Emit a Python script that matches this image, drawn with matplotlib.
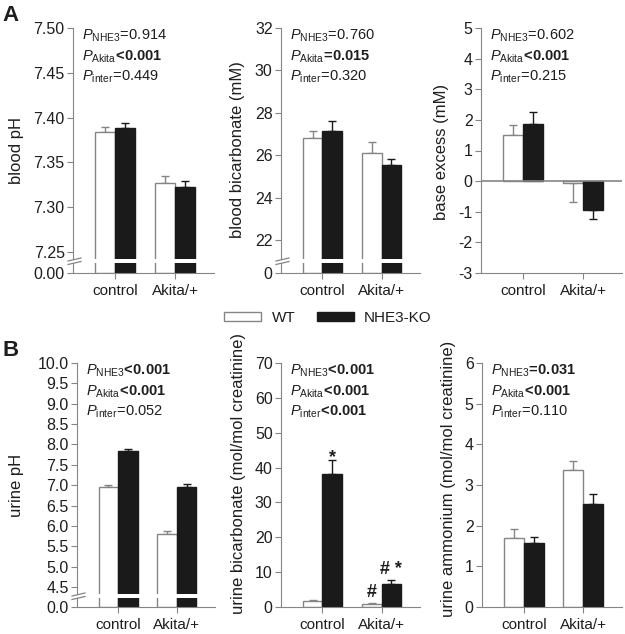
import matplotlib.pyplot as plt
from matplotlib.lines import Line2D
from matplotlib.patches import Patch
import numpy as np

plt.rcParams['font.family'] = ['Liberation Sans', 'DejaVu Sans']
plt.rcParams['mathtext.fontset'] = 'custom'
plt.rcParams['mathtext.rm'] = 'Liberation Sans'
plt.rcParams['mathtext.it'] = 'Liberation Sans:italic'
plt.rcParams['mathtext.bf'] = 'Liberation Sans:bold'

groups = ["control", "Akita/+"]
genotypes = ["WT", "NHE3-KO"]

# --- data (mean, SEM) ---------------------------------------------------
blood_ph_wt = [7.384, 7.327]
blood_ph_wt_err = [0.005, 0.008]
blood_ph_ko = [7.388, 7.322]
blood_ph_ko_err = [0.006, 0.007]

blood_bicarb_wt = [26.81, 26.11]
blood_bicarb_wt_err = [0.35, 0.52]
blood_bicarb_ko = [27.13, 25.52]
blood_bicarb_ko_err = [0.47, 0.31]

base_excess_wt = [1.49, -0.07]
base_excess_wt_err = [0.34, 0.60]
base_excess_ko = [1.85, -0.95]
base_excess_ko_err = [0.41, 0.30]

urine_ph_wt = [6.95, 5.81]
urine_ph_wt_err = [0.06, 0.07]
urine_ph_ko = [7.85, 6.96]
urine_ph_ko_err = [0.05, 0.07]

urine_bicarb_wt = [1.8, 0.95]
urine_bicarb_wt_err = [0.3, 0.2]
urine_bicarb_ko = [38.1, 6.7]
urine_bicarb_ko_err = [4.2, 1.1]
urine_bicarb_wt_marks = ["", "#"]
urine_bicarb_ko_marks = ["*", "# *"]

urine_nh4_wt = [1.69, 3.36]
urine_nh4_wt_err = [0.22, 0.24]
urine_nh4_ko = [1.57, 2.53]
urine_nh4_ko_err = [0.16, 0.26]

# P values: (factor, text, bold)
p_blood_ph = [("NHE3", "=0.914", False), ("Akita", "<0.001", True), ("inter", "=0.449", False)]
p_blood_bicarb = [("NHE3", "=0.760", False), ("Akita", "=0.015", True), ("inter", "=0.320", False)]
p_base_excess = [("NHE3", "=0.602", False), ("Akita", "<0.001", True), ("inter", "=0.215", False)]
p_urine_ph = [("NHE3", "<0.001", True), ("Akita", "<0.001", True), ("inter", "=0.052", False)]
p_urine_bicarb = [("NHE3", "<0.001", True), ("Akita", "<0.001", True), ("inter", "<0.001", True)]
p_urine_nh4 = [("NHE3", "=0.031", True), ("Akita", "<0.001", True), ("inter", "=0.110", False)]

# --- style -------------------------------------------------------------
GRAY = "#858585"
BLACK = "#1a1a1a"
TXT = "#1e1e1e"
W, H = 625, 634
BW = 0.333

fig = plt.figure(figsize=(W / 100, H / 100), dpi=100)


def rect(l, t, r, b):
    return [l / W, 1 - b / H, (r - l) / W, (b - t) / H]


def p_string(factor, txt, bold):
    sym, num = txt[0], txt[1:]
    font = r"\mathbf" if bold else r"\mathrm"
    return (r"$\mathit{P}_{\mathrm{%s}}\!%s{%s}\!%s{%s}$"
            % (factor, font, sym, font, num))


def style_axis(ax, bottom=True):
    for s in ["top", "right"]:
        ax.spines[s].set_visible(False)
    ax.spines["left"].set_color(GRAY)
    ax.spines["bottom"].set_color(GRAY)
    ax.spines["bottom"].set_visible(bottom)
    ax.tick_params(axis="y", direction="out", length=4, width=0.8,
                   color=GRAY, labelsize=11.5, pad=2, labelcolor=TXT)
    ax.tick_params(axis="x", direction="out", length=4, width=0.8,
                   color=GRAY, labelsize=11, pad=4, labelcolor=TXT)
    ax.set_xlim(-0.7, 1.65)


def draw_bars(ax, wt, wt_err, ko, ko_err, errors=True):
    x = np.arange(len(groups))
    wt = np.array(wt)
    ko = np.array(ko)
    ax.bar(x - BW / 2, wt, BW, color="white", edgecolor=GRAY, linewidth=1, zorder=2)
    ax.bar(x + BW / 2, ko, BW, color=BLACK, edgecolor=BLACK, linewidth=1, zorder=2)
    if errors:
        for xs, v, e, c in [(x - BW / 2, wt, wt_err, GRAY), (x + BW / 2, ko, ko_err, BLACK)]:
            e = np.array(e)
            lo = np.where(v < 0, e, 0)
            hi = np.where(v >= 0, e, 0)
            ax.errorbar(xs, v, yerr=[lo, hi], fmt="none", ecolor=c,
                        elinewidth=1, capsize=3, capthick=1, zorder=1)


def panel(l, r, t, b, wt, wt_err, ko, ko_err, ylim, yticks, fmt, ylabel,
          label_xy, ptext, broken=None, zero_line=False):
    if broken:
        gap_t, gap_b, low_ylim, low_label = broken
        ax = fig.add_axes(rect(l, t, r, gap_t))
        axl = fig.add_axes(rect(l, gap_b, r, b))
        style_axis(ax, bottom=False)
        style_axis(axl)
        draw_bars(ax, wt, wt_err, ko, ko_err)
        draw_bars(axl, wt, wt_err, ko, ko_err, errors=False)
        ax.set_ylim(*ylim)
        ax.set_xticks([])
        axl.set_ylim(*low_ylim)
        axl.set_yticks([0])
        axl.set_yticklabels([low_label])
        axl.set_xticks(range(len(groups)))
        axl.set_xticklabels(groups)
        # break marks on the y axis
        for yy in (gap_t + 0.5, gap_b):
            fig.add_artist(Line2D([(l - 5) / W, (l + 8) / W],
                                  [1 - (yy + 1.5) / H, 1 - (yy - 1.5) / H],
                                  color=GRAY, lw=0.9))
    else:
        ax = fig.add_axes(rect(l, t, r, b))
        style_axis(ax)
        draw_bars(ax, wt, wt_err, ko, ko_err)
        ax.set_ylim(*ylim)
        ax.set_xticks(range(len(groups)))
        ax.set_xticklabels(groups)
        if zero_line:
            ax.axhline(0, color=GRAY, lw=1.2, zorder=3)
    ax.set_yticks(yticks)
    ax.set_yticklabels([fmt.format(v) for v in yticks])
    ax.set_ylabel(ylabel, fontsize=12, color=TXT)
    ax.yaxis.set_label_coords(label_xy[0] / W, 1 - label_xy[1] / H,
                              transform=fig.transFigure)
    base = t + 12
    step = 20.5
    for i, (f, s, bold) in enumerate(ptext):
        fig.text((l + 9) / W, 1 - (base + i * step) / H, p_string(f, s, bold),
                 fontsize=10.5, va="baseline", ha="left", color=TXT)
    return ax


# --- panel A -----------------------------------------------------------
panel(73, 214, 28, 273, blood_ph_wt, blood_ph_wt_err, blood_ph_ko, blood_ph_ko_err,
      (7.242, 7.50), np.round(np.arange(7.25, 7.501, 0.05), 2), "{:.2f}", "blood pH",
      (24, 150), p_blood_ph, broken=(259, 263, (0, 0.5), "0.00"))
panel(281, 420, 28, 273, blood_bicarb_wt, blood_bicarb_wt_err, blood_bicarb_ko,
      blood_bicarb_ko_err, (21.1, 32), np.arange(22, 33, 2), "{:d}",
      "blood bicarbonate (mM)", (245, 150), p_blood_bicarb,
      broken=(259, 263, (0, 0.5), "0"))
panel(481, 622, 28, 273, base_excess_wt, base_excess_wt_err, base_excess_ko,
      base_excess_ko_err, (-3, 5), np.arange(-3, 6, 1), "{:d}", "base excess (mM)",
      (449, 152), p_base_excess, zero_line=True)

# --- panel B -----------------------------------------------------------
panel(77, 215, 363, 607, urine_ph_wt, urine_ph_wt_err, urine_ph_ko, urine_ph_ko_err,
      (4.33, 10.0), np.round(np.arange(4.5, 10.01, 0.5), 1), "{:.1f}", "urine pH",
      (24, 485), p_urine_ph, broken=(594, 598, (0, 0.5), "0.0"))
axb2 = panel(281, 420, 363, 607, urine_bicarb_wt, urine_bicarb_wt_err, urine_bicarb_ko,
             urine_bicarb_ko_err, (0, 70), np.arange(0, 71, 10), "{:d}",
             "urine bicarbonate (mol/mol creatinine)", (246, 473), p_urine_bicarb)
panel(482, 622, 363, 607, urine_nh4_wt, urine_nh4_wt_err, urine_nh4_ko, urine_nh4_ko_err,
      (0, 6), np.arange(0, 7, 1), "{:d}", "urine ammonium (mol/mol creatinine)",
      (456, 479), p_urine_nh4)

# significance marks in urine bicarbonate
x = np.arange(len(groups))
for xs, vals, errs, marks in [(x - BW / 2, urine_bicarb_wt, urine_bicarb_wt_err, urine_bicarb_wt_marks),
                              (x + BW / 2, urine_bicarb_ko, urine_bicarb_ko_err, urine_bicarb_ko_marks)]:
    for xi, v, e, m in zip(xs, vals, errs, marks):
        if m:
            dy = 4 if "#" in m else -2
            axb2.annotate(m, xy=(xi, v + e), xytext=(0, dy), textcoords="offset points",
                          ha="center", va="baseline", fontsize=13,
                          fontweight="bold", color=TXT)

# panel letters
fig.text(2 / W, 1 - 21 / H, "A", fontsize=16, fontweight="bold", color=TXT, va="baseline")
fig.text(2 / W, 1 - 356 / H, "B", fontsize=16, fontweight="bold", color=TXT, va="baseline")

# legend
handles = [Patch(facecolor="white", edgecolor=GRAY, linewidth=1),
           Patch(facecolor=BLACK, edgecolor=BLACK, linewidth=1)]
fig.legend(handles, genotypes, loc="center", bbox_to_anchor=(0.525, 1 - 318 / H),
           ncol=2, frameon=False, fontsize=11, handlelength=2.4, handleheight=0.45,
           handletextpad=0.7, columnspacing=1.4, labelcolor=TXT)

fig.savefig("out.png", dpi=100)
